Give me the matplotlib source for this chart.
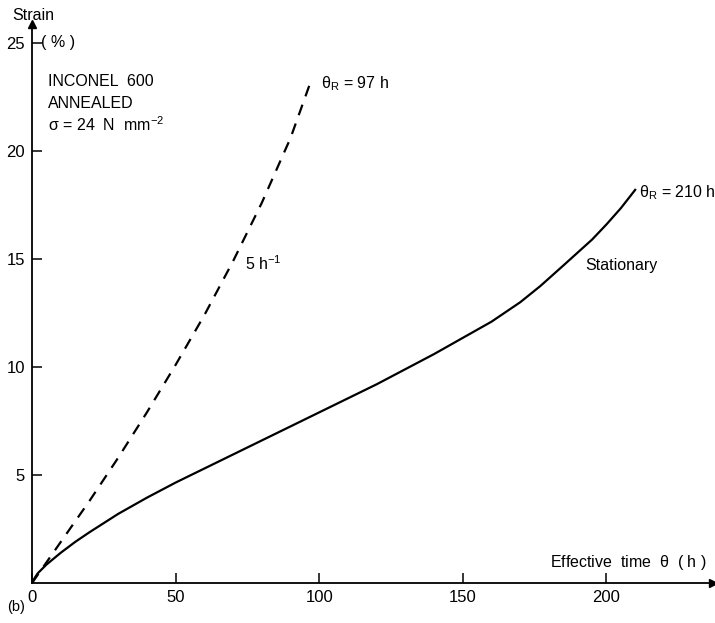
import numpy as np
import matplotlib.pyplot as plt

# data (time in h, strain in %)
t_stationary = [0, 1, 2, 5, 10, 15, 20, 30, 40, 50, 60, 70, 80, 90, 100, 110, 120, 130, 140,
                150, 160, 170, 177, 185, 190, 195, 200, 205, 210]
e_stationary = [0, 0.25, 0.45, 0.85, 1.4, 1.9, 2.35, 3.2, 3.95, 4.65, 5.3, 5.95, 6.6, 7.25, 7.9, 8.55,
                9.2, 9.9, 10.6, 11.35, 12.1, 13.0, 13.75, 14.7, 15.3, 15.9, 16.6, 17.35, 18.2]

t_cycled = [0, 5, 10, 15, 20, 30, 40, 50, 60, 70, 80, 90, 97]
e_cycled = [0, 0.95, 1.9, 2.85, 3.8, 5.8, 7.9, 10.1, 12.4, 14.9, 17.6, 20.6, 23.2]

x_ticks = [0, 50, 100, 150, 200]
y_ticks = [5, 10, 15, 20, 25]

plt.rcParams['font.family'] = ['Liberation Sans', 'DejaVu Sans']
plt.rcParams['mathtext.fontset'] = 'custom'
plt.rcParams['mathtext.rm'] = 'Liberation Sans'
plt.rcParams['mathtext.it'] = 'Liberation Sans'

fig = plt.figure(figsize=(7.15, 6.23), dpi=100)
ax = fig.add_axes([0.0448, 0.0642, 0.952, 0.898])

ax.plot(t_stationary, e_stationary, color='black', lw=1.6, solid_joinstyle='round')
ax.plot(t_cycled, e_cycled, color='black', lw=1.6, dashes=(5, 4))

ax.set_xlim(0, 237)
ax.set_ylim(0, 25.9)

for s in ['top', 'right']:
    ax.spines[s].set_visible(False)
for s in ['left', 'bottom']:
    ax.spines[s].set_linewidth(1.3)

ax.set_xticks(x_ticks)
ax.set_yticks(y_ticks)
ax.tick_params(direction='in', length=7, width=1.1, labelsize=12, pad=5)

# arrow heads on the axes
ax.plot(1, 0, '>', color='black', ms=6, transform=ax.transAxes, clip_on=False)
ax.plot(0, 1, '^', color='black', ms=6, transform=ax.transAxes, clip_on=False)

fs = 11.5
ax.text(-0.029, 1.015, 'Strain', transform=ax.transAxes, fontsize=fs, ha='left', va='center')
ax.text(3, 25, '( % )', fontsize=fs, va='center')
ax.text(235, 0.5, r'Effective  time  $\mathrm{\theta}$  ( h )', fontsize=fs, ha='right', va='bottom')
ax.text(-5.6, -1.1, '(b)', fontsize=10.5, ha='center', va='center')

ax.text(5.5, 23.2, 'INCONEL  600', fontsize=fs, va='center')
ax.text(5.5, 22.2, 'ANNEALED', fontsize=fs, va='center')
ax.text(5.5, 21.2, r'$\mathrm{\sigma}$ = 24  N  mm$^{-2}$', fontsize=fs, va='center')

ax.text(100.5, 23.1, r'$\mathrm{\theta_R}$ = 97 h', fontsize=fs, va='center')
ax.text(211.5, 18.05, r'$\mathrm{\theta_R}$ = 210 h', fontsize=fs, va='center')
ax.text(74, 14.8, r'5 h$^{-1}$', fontsize=fs, va='center')
ax.text(192.5, 14.7, 'Stationary', fontsize=fs, ha='left', va='center')

fig.savefig('out.png', dpi=100)
